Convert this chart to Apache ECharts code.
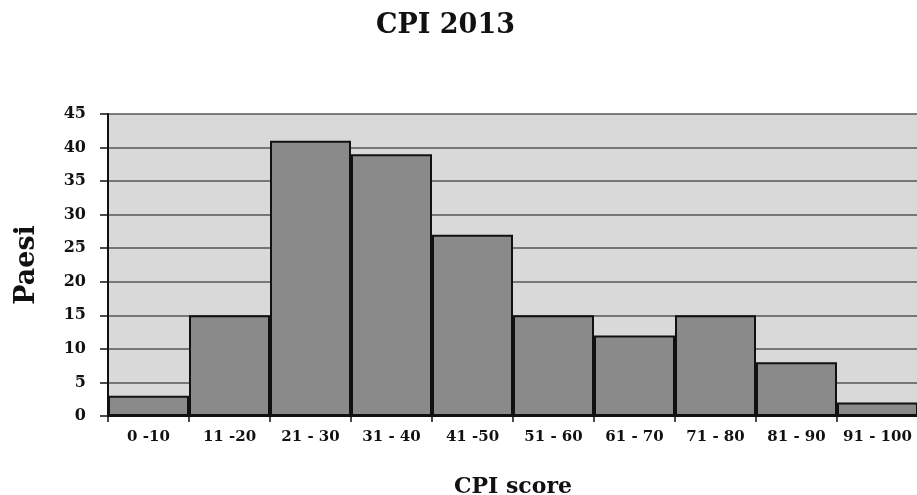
<!DOCTYPE html>
<html>
<head>
<meta charset="utf-8">
<script src="https://cdn.jsdelivr.net/npm/echarts@6/dist/echarts.min.js"></script>
<style>
html,body{margin:0;padding:0;background:#fff;}
#chart{width:917px;height:495px;}
</style>
</head>
<body>
<div id="chart"></div>
<script>
const categories = ['0 -10', '11 -20', '21 - 30', '31 - 40', '41 -50', '51 - 60', '61 - 70', '71 - 80', '81 - 90', '91 - 100'];
const paesi = [3, 15, 41, 39, 27, 15, 12, 15, 8, 2];
const titleText = 'CPI 2013';
const xName = 'CPI score';
const yName = 'Paesi';

const serif = '"DejaVu Serif", serif';
const chart = echarts.init(document.getElementById('chart'), null, {renderer: 'canvas'});
chart.setOption({
  animation: false,
  backgroundColor: '#ffffff',
  title: {
    text: titleText,
    left: 371,
    top: 7,
    textStyle: {fontFamily: serif, fontWeight: 'bold', fontSize: 27, color: '#111'}
  },
  grid: {
    left: 108, right: -1, top: 114, bottom: 79,
    outerBoundsMode: 'none',
    containLabel: false,
    show: true, backgroundColor: '#d9d9d9', borderWidth: 0
  },
  xAxis: {
    type: 'category',
    data: categories,
    name: xName,
    nameLocation: 'middle',
    nameGap: 60,
    nameTextStyle: {fontFamily: serif, fontWeight: 'bold', fontSize: 22, color: '#111'},
    axisLine: {lineStyle: {color: '#111', width: 2}},
    axisTick: {show: true, length: 6, lineStyle: {color: '#111', width: 1.5}},
    axisLabel: {fontFamily: serif, fontWeight: 'bold', fontSize: 15, color: '#111', margin: 14, interval: 0},
    splitLine: {show: false}
  },
  yAxis: {
    type: 'value',
    min: 0, max: 45, interval: 5,
    name: yName,
    nameLocation: 'middle',
    nameGap: 68,
    nameTextStyle: {fontFamily: serif, fontWeight: 'bold', fontSize: 27, color: '#111'},
    axisLine: {show: true, lineStyle: {color: '#111', width: 2}},
    axisTick: {show: true, length: 8, lineStyle: {color: '#111', width: 1.5}},
    axisLabel: {fontFamily: serif, fontWeight: 'bold', fontSize: 16, color: '#111', margin: 22},
    splitLine: {show: true, lineStyle: {color: '#555', width: 1.5}}
  },
  series: [{
    type: 'bar',
    data: paesi,
    barWidth: '100%',
    itemStyle: {color: '#8a8a8a', borderColor: '#111', borderWidth: 2}
  }]
});
</script>
</body>
</html>
